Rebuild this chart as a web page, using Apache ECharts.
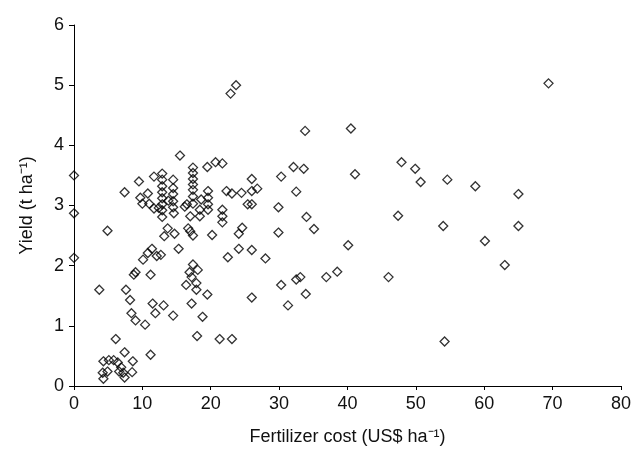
<!DOCTYPE html>
<html>
<head>
<meta charset="utf-8">
<script src="https://cdn.jsdelivr.net/npm/echarts@6/dist/echarts.min.js"></script>
<style>html,body{margin:0;padding:0;background:#fff}#c{width:634px;height:455px}</style>
</head>
<body>
<div id="c"></div>
<script>
// Fertilizer cost (US$ ha-1)
var costs = [
  0, 0, 0,
  4.3, 5.1, 5.8, 6.4, 6.9, 4.2, 4.9, 6.6, 7.2, 8.5, 4.3, 7.4, 8.6, 7.4, 6.1, 11.2,
  8.2, 8.4, 9.0, 10.4, 11.5, 11.9, 13.1, 14.5, 17.2, 18.8, 18.0, 21.3, 23.1,
  13.7, 13.2, 14.7, 16.7, 17.0, 17.4, 20.2, 15.3, 10.8, 11.4, 12.1, 12.7, 10.1, 9.0, 8.75, 11.2,
  17.4, 18.1, 16.9, 17.2, 16.4, 17.9, 17.9, 19.5, 3.7, 7.6, 4.9,
  7.4, 9.5, 9.7, 10.0, 10.8, 11.0, 11.7, 11.7, 12.4,
  12.9, 12.9, 12.9, 12.9, 12.9, 12.9, 12.9, 12.9,
  13.8,
  14.5, 14.5, 14.5, 14.5, 14.5, 14.6,
  15.5, 16.2, 16.5,
  17.4, 17.4, 17.4, 17.4, 17.4, 17.4, 17.4,
  17.0, 18.4, 18.4, 18.6,
  19.5, 19.6, 19.6, 19.6, 19.6,
  20.7, 21.7, 21.7, 21.7, 21.7,
  22.3, 23.1, 24.5, 26.0, 26.8, 26.0,
  25.4, 26.0, 29.9, 30.3, 32.1, 33.6, 32.5,
  34.0, 35.1, 24.1, 24.6, 29.9, 40.1,
  22.5, 24.1, 26.0, 28.0,
  26.0, 30.3, 32.5, 33.1, 36.9, 38.5, 33.9, 31.3,
  22.9, 23.7, 33.8, 40.5, 41.1,
  69.4, 47.9, 49.9, 50.7, 54.6, 58.7, 65.0, 47.4, 54.0, 65.0, 60.1, 63.0, 46.0, 54.2
];
// Yield (t ha-1)
var yields = [
  3.5, 2.87, 2.13,
  0.41, 0.43, 0.43, 0.39, 0.31, 0.22, 0.24, 0.24, 0.22, 0.23, 0.12, 0.14, 0.41, 0.56, 0.78, 0.52,
  1.43, 1.21, 1.09, 1.02, 1.37, 1.21, 1.34, 1.17, 1.37, 1.15, 0.83, 0.78, 0.78,
  2.62, 2.49, 2.53, 2.62, 2.57, 2.5, 2.51, 2.28, 2.21, 2.28, 2.16, 2.18, 2.1, 1.89, 1.85, 1.85,
  2.02, 1.93, 1.89, 1.81, 1.68, 1.71, 1.6, 1.52, 1.6, 1.6, 2.58,
  3.22, 3.4, 3.13, 3.03, 3.2, 3.03, 3.48, 2.95, 2.96,
  3.53, 3.43, 3.32, 3.22, 3.12, 3.02, 2.92, 2.81,
  3.08,
  3.43, 3.29, 3.19, 3.07, 2.97, 2.87,
  3.83, 2.98, 3.02,
  3.63, 3.54, 3.44, 3.35, 3.26, 3.15, 3.03,
  2.82, 2.82, 2.93, 3.1,
  3.64, 3.24, 3.13, 3.02, 2.93,
  3.72, 3.7, 2.93, 2.82, 2.72,
  3.24, 3.2, 3.21, 3.24, 3.28, 3.44,
  3.02, 3.02, 2.97, 3.48, 3.64, 3.61, 3.23,
  2.81, 2.61, 2.53, 2.63, 2.55, 2.34,
  2.14, 2.28, 2.26, 2.12,
  1.47, 1.68, 1.77, 1.81, 1.81, 1.9, 1.53, 1.34,
  4.86, 5.0, 4.24, 4.28, 3.52,
  5.03, 3.72, 3.61, 3.39, 3.43, 3.32, 3.19, 2.83, 2.66, 2.66, 2.41, 2.01, 1.81, 0.74
];
var xTicks = [0, 10, 20, 30, 40, 50, 60, 70, 80];
var yTicks = [0, 1, 2, 3, 4, 5, 6];

var points = costs.map(function (c, i) { return [c, yields[i]]; });
var font = 'Liberation Sans, Arial, Helvetica, sans-serif';
var chart = echarts.init(document.getElementById('c'), null, { renderer: 'canvas' });
chart.setOption({
  animation: false,
  backgroundColor: '#fff',
  grid: { left: 74, right: 13, top: 25, bottom: 69, containLabel: false },
  xAxis: {
    type: 'value', min: xTicks[0], max: xTicks[xTicks.length - 1], interval: 10,
    name: 'Fertilizer cost (US$ ha\u207B\u00B9)', nameLocation: 'middle', nameGap: 42,
    nameTextStyle: { fontFamily: font, fontSize: 18, color: '#111' },
    axisLine: { lineStyle: { color: '#000', width: 1 } },
    axisTick: { show: true, inside: false, length: 4, lineStyle: { color: '#000' } },
    axisLabel: { fontFamily: font, fontSize: 18, color: '#111', margin: 9 },
    splitLine: { show: false }
  },
  yAxis: {
    type: 'value', min: yTicks[0], max: yTicks[yTicks.length - 1], interval: 1,
    name: 'Yield (t ha\u207B\u00B9)', nameLocation: 'middle', nameGap: 38, nameRotate: 90,
    nameTextStyle: { fontFamily: font, fontSize: 18, color: '#111' },
    axisLine: { show: true, lineStyle: { color: '#000', width: 1 } },
    axisTick: { show: true, inside: false, length: 5, lineStyle: { color: '#000' } },
    axisLabel: { fontFamily: font, fontSize: 18, color: '#111', margin: 10 },
    splitLine: { show: false }
  },
  series: [{
    type: 'scatter',
    data: points,
    symbol: 'diamond',
    symbolSize: 9,
    itemStyle: { color: 'rgba(0,0,0,0)', borderColor: '#000', borderWidth: 1.3 },
    emphasis: { disabled: true }
  }]
});
</script>
</body>
</html>
